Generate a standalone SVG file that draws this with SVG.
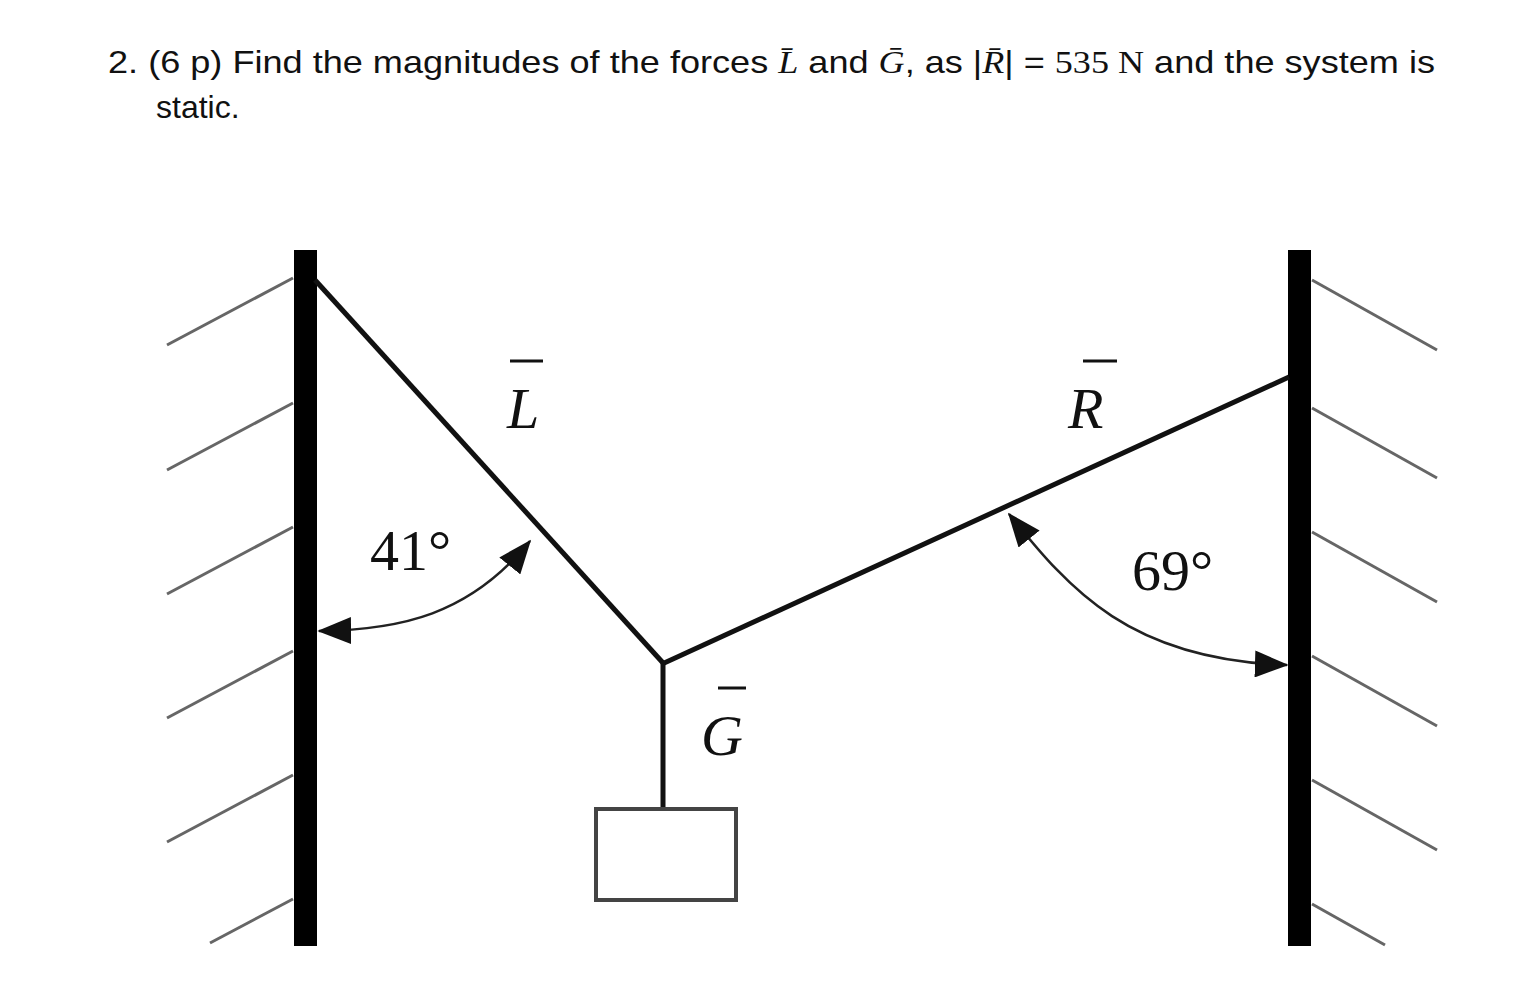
<svg xmlns="http://www.w3.org/2000/svg" width="1534" height="998" viewBox="0 0 1534 998">
<style>
.t{font-family:"Liberation Sans",Arial,sans-serif;font-size:32px;fill:#111}
.m{font-family:"Liberation Serif","Times New Roman",serif;font-style:italic}
.n{font-family:"Liberation Serif","Times New Roman",serif}
.h{stroke:#666;stroke-width:3;fill:none}
.r{stroke:#111;stroke-width:5;fill:none}
.a{stroke:#222;stroke-width:2.5;fill:none}
.lab{font-family:"Liberation Serif","Times New Roman",serif;font-size:58px;fill:#111}
</style>
<defs>
<marker id="ahb" viewBox="0 0 10 8" refX="9.5" refY="4" markerWidth="34" markerHeight="27" orient="auto-start-reverse" markerUnits="userSpaceOnUse"><path d="M0,0 L10,4 L0,8 z" fill="#111"/></marker>
</defs>
<rect width="1534" height="998" fill="#fff"/>
<text class="t" x="108" y="73" textLength="1327" lengthAdjust="spacingAndGlyphs">2.  (6 p) Find the magnitudes of the forces <tspan class="m">L̄</tspan> and <tspan class="m">Ḡ</tspan>, as |<tspan class="m">R̄</tspan>| = <tspan class="n">535 N</tspan> and the system is</text>
<text class="t" x="156" y="118">static.</text>
<g id="hatch-left">
<line class="h" x1="293" y1="278" x2="167" y2="345"/>
<line class="h" x1="293" y1="403" x2="167" y2="470"/>
<line class="h" x1="293" y1="527" x2="167" y2="594"/>
<line class="h" x1="293" y1="651" x2="167" y2="718"/>
<line class="h" x1="293" y1="775" x2="167" y2="842"/>
<line class="h" x1="293" y1="899" x2="210" y2="943"/>
</g>
<g id="hatch-right">
<line class="h" x1="1312" y1="280" x2="1437" y2="350"/>
<line class="h" x1="1312" y1="408" x2="1437" y2="478"/>
<line class="h" x1="1312" y1="532" x2="1437" y2="602"/>
<line class="h" x1="1312" y1="656" x2="1437" y2="726"/>
<line class="h" x1="1312" y1="780" x2="1437" y2="850"/>
<line class="h" x1="1312" y1="904" x2="1385" y2="945"/>
</g>
<g id="wall-left"><rect x="294" y="250" width="23" height="696" fill="#000"/></g>
<g id="wall-right"><rect x="1288" y="250" width="23" height="696" fill="#000"/></g>
<g id="connectors">
<line class="r" x1="315" y1="280" x2="664" y2="664"/>
<line class="r" x1="662" y1="664" x2="1289" y2="377"/>
<line class="r" x1="663" y1="662" x2="663" y2="810"/>
<path class="a" d="M319,631 C400,630 470,615 530,541" marker-start="url(#ahb)" marker-end="url(#ahb)"/>
<path class="a" d="M1009,514 C1070,590 1130,660 1287,665" marker-start="url(#ahb)" marker-end="url(#ahb)"/>
</g>
<g id="box"><rect x="596" y="809" width="140" height="91" fill="#fff" stroke="#444" stroke-width="4"/></g>
<text class="lab m" x="507" y="428">L</text>
<line x1="510" y1="361" x2="543" y2="361" stroke="#111" stroke-width="3"/>
<text class="lab m" x="1068" y="428">R</text>
<line x1="1083" y1="361" x2="1117" y2="361" stroke="#111" stroke-width="3"/>
<text class="lab m" x="701" y="755">G</text>
<line x1="718" y1="688" x2="746" y2="688" stroke="#111" stroke-width="3"/>
<text class="lab" x="370" y="570" font-size="54">41°</text>
<text class="lab" x="1132" y="590" font-size="50">69°</text>
</svg>
